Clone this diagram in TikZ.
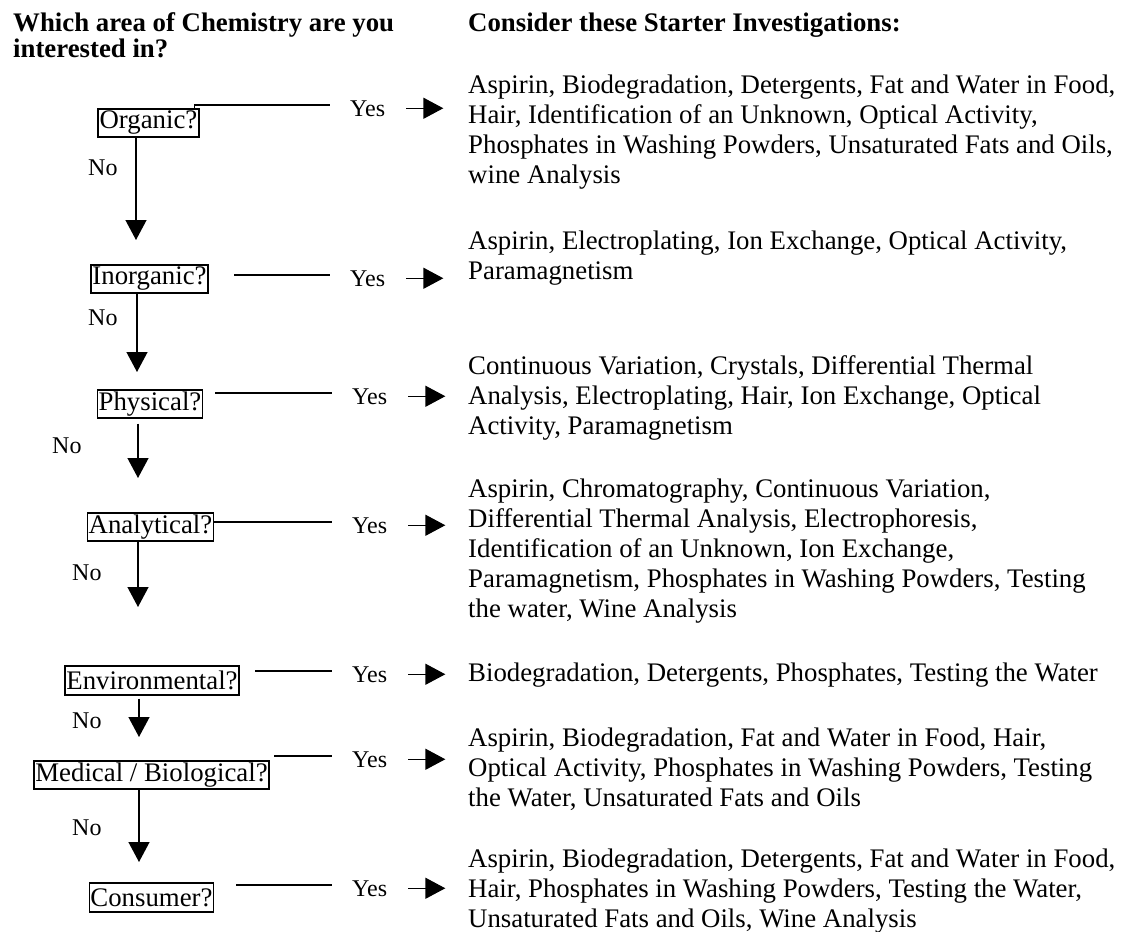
\documentclass[tikz,border=0pt]{standalone}
\usepackage{fontspec}
\setmainfont{Liberation Serif}
\usetikzlibrary{arrows.meta}
\begin{document}
\begin{tikzpicture}[x=1pt,y=-1pt,
  qbox/.style={draw,line width=1.1pt,inner xsep=1pt,inner ysep=0pt,minimum height=28pt,font=\fontsize{26.8}{27}\selectfont},
  lbl/.style={inner sep=0pt,anchor=base west,font=\fontsize{24}{24}\selectfont},
  body/.style={inner sep=0pt,anchor=base west,font=\fontsize{26.8}{30}\selectfont},
  head/.style={inner sep=0pt,anchor=base west,font=\fontsize{26.8}{26}\selectfont\bfseries},
  conn/.style={line width=1.2pt},
  noarrow/.style={line width=1.3pt,-{Triangle[length=20pt,width=21pt]}},
  yesarrow/.style={line width=1.4pt,-{Triangle[length=20pt,width=21pt]}},
]
\useasboundingbox (0,0) rectangle (1125,932);

% titles
\node[head] (t1) at (13,31) {\parbox[t]{420pt}{\raggedright Which area of Chemistry are you\\interested in?}};
\node[head] (t2) at (468,31) {Consider these Starter Investigations:};

% question boxes
\node[qbox,minimum width=101pt] (q1) at (148.5,123) {Organic?};
\node[qbox,minimum width=117pt] (q2) at (149.5,279) {Inorganic?};
\node[qbox,minimum width=104pt] (q3) at (150,404) {Physical?};
\node[qbox,minimum width=125pt] (q4) at (150.5,527) {Analytical?};
\node[qbox,minimum width=174pt,minimum height=29pt] (q5) at (152,680.5) {Environmental?};
\node[qbox,minimum width=235pt] (q6) at (151.5,775) {Medical / Biological?};
\node[qbox,minimum width=123pt,minimum height=29pt] (q7) at (151.5,897.5) {Consumer?};

% Yes labels
\node[lbl] (y1) at (350,116) {Yes};
\node[lbl] (y2) at (350,286) {Yes};
\node[lbl] (y3) at (352,404) {Yes};
\node[lbl] (y4) at (352,533) {Yes};
\node[lbl] (y5) at (352,682) {Yes};
\node[lbl] (y6) at (352,767) {Yes};
\node[lbl] (y7) at (352,896) {Yes};

% No labels
\node[lbl] (n1) at (88,175) {No};
\node[lbl] (n2) at (88,325) {No};
\node[lbl] (n3) at (52,453) {No};
\node[lbl] (n4) at (72,580) {No};
\node[lbl] (n5) at (72,728) {No};
\node[lbl] (n6) at (72,835) {No};

% answer blocks
\node[body] (b1) at (468,93) {\parbox[t]{700pt}{\raggedright Aspirin, Biodegradation, Detergents, Fat and Water in Food,\\Hair, Identification of an Unknown, Optical Activity,\\Phosphates in Washing Powders, Unsaturated Fats and Oils,\\wine Analysis}};
\node[body] (b2) at (468,249) {\parbox[t]{700pt}{\raggedright Aspirin, Electroplating, Ion Exchange, Optical Activity,\\Paramagnetism}};
\node[body] (b3) at (468,374) {\parbox[t]{700pt}{\raggedright Continuous Variation, Crystals, Differential Thermal\\Analysis, Electroplating, Hair, Ion Exchange, Optical\\Activity, Paramagnetism}};
\node[body] (b4) at (468,497) {\parbox[t]{700pt}{\raggedright Aspirin, Chromatography, Continuous Variation,\\Differential Thermal Analysis, Electrophoresis,\\Identification of an Unknown, Ion Exchange,\\Paramagnetism, Phosphates in Washing Powders, Testing\\the water, Wine Analysis}};
\node[body] (b5) at (468,681) {Biodegradation, Detergents, Phosphates, Testing the Water};
\node[body] (b6) at (468,746) {\parbox[t]{700pt}{\raggedright Aspirin, Biodegradation, Fat and Water in Food, Hair,\\Optical Activity, Phosphates in Washing Powders, Testing\\the Water, Unsaturated Fats and Oils}};
\node[body] (b7) at (468,867) {\parbox[t]{700pt}{\raggedright Aspirin, Biodegradation, Detergents, Fat and Water in Food,\\Hair, Phosphates in Washing Powders, Testing the Water,\\Unsaturated Fats and Oils, Wine Analysis}};

% Yes connector ends
\coordinate (e1) at (330,105);
\coordinate (e2) at (330,275);
\coordinate (e3) at (332,393);
\coordinate (e4) at (332,522);
\coordinate (e5) at (332,671);
\coordinate (e6) at (332,756);
\coordinate (e7) at (332,885);

\draw[conn] ([xshift=-5pt]q1.north east) |- (e1);
\draw[conn] (e2 -| 234,0) -- (e2);
\draw[conn] (e3 -| 215,0) -- (e3);
\draw[conn] (q4.east |- e4) -- (e4);
\draw[conn] (e5 -| 255,0) -- (e5);
\draw[conn] (e6 -| 274,0) -- (e6);
\draw[conn] (e7 -| 236,0) -- (e7);

% Yes arrows
\foreach \i in {1,...,7}{
  \draw[yesarrow] ([xshift=21pt]y\i.east) -- ([xshift=58pt]y\i.east);
}

% No arrows
\coordinate (d1) at (136,240);
\coordinate (d2) at (137,372);
\coordinate (d3) at (138,478);
\coordinate (d4) at (138,607);
\coordinate (d5) at (139,737);
\coordinate (d6) at (139,862);
\draw[noarrow] (q1.south -| d1) -- (d1);
\draw[noarrow] (q2.south -| d2) -- (d2);
\draw[noarrow] ([yshift=-5pt]q3.south -| d3) -- (d3);
\draw[noarrow] (q4.south -| d4) -- (d4);
\draw[noarrow] ([yshift=-3pt]q5.south -| d5) -- (d5);
\draw[noarrow] (q6.south -| d6) -- (d6);
\end{tikzpicture}
\end{document}
